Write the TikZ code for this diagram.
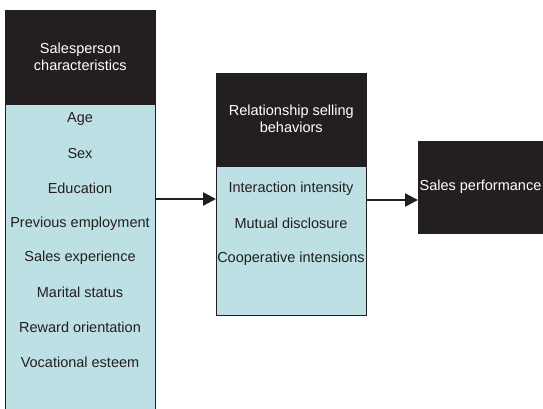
\documentclass[tikz,border=0pt]{standalone}
\usepackage{fontspec}
\setmainfont{Liberation Sans}
\usetikzlibrary{arrows.meta,positioning}
\definecolor{boxdark}{HTML}{231F20}
\definecolor{boxlight}{HTML}{BDE0E4}
\tikzstyle{header} = [draw=boxdark,fill=boxdark,text=white,align=center,inner sep=0,line width=0.6pt]
\tikzstyle{body} = [draw=boxdark,fill=boxlight,inner sep=0,line width=0.6pt]
\tikzstyle{item} = [text=boxdark,inner sep=0]
\tikzstyle{link} = [-{Triangle[length=13pt,width=13pt]},line width=2.5pt,draw=boxdark]
\def \fs {\fontsize{14.5}{17}\selectfont}
\def \gap {34.75}

\begin{document}
\begin{tikzpicture}[x=1pt,y=-1pt,font=\fs,node distance=0pt]
      \useasboundingbox (0,0) rectangle (543,408);
      \node[header,minimum width=150pt,minimum height=93pt,anchor=north west] (spHead) at (5,10) {Salesperson\\characteristics};
      \node[body,minimum width=150pt,minimum height=310pt,below=of spHead] (spBody) {};
      \foreach \name [count=\i from 0] in {Age,Sex,Education,Previous employment,Sales experience,Marital status,Reward orientation,Vocational esteem}
        \node[item] (sp\i) at (80,119+\i*\gap) {\name};
      \node[header,minimum width=150pt,minimum height=92pt,anchor=north west] (rsHead) at (216,73) {Relationship selling\\behaviors};
      \node[body,minimum width=150pt,minimum height=149pt,below=of rsHead] (rsBody) {};
      \foreach \name [count=\i from 0] in {Interaction intensity,Mutual disclosure,Cooperative intensions}
        \node[item] (rs\i) at (291,189+\i*\gap) {\name};
      \node[header,minimum width=127pt,minimum height=92pt,anchor=north west] (perf) at (418,141) {};
      \node[text=white,inner sep=0] (perfText) at (480.5,187) {Sales performance};
      \coordinate (in1) at (216,199);
      \coordinate (in2) at (418,200);
      \draw[link] (spBody.east |- in1) -- (in1);
      \draw[link] (rsBody.east |- in2) -- (in2);
    \end{tikzpicture}
\end{document}
